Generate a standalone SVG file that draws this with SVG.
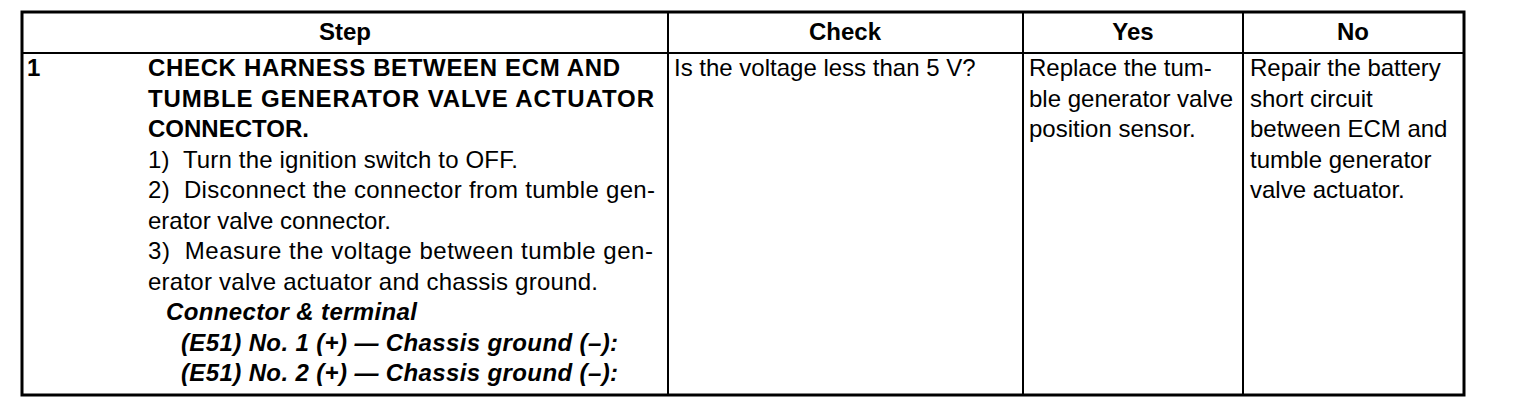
<svg xmlns="http://www.w3.org/2000/svg" width="1520" height="416" viewBox="0 0 1520 416">
<style>
text{font-family:"Liberation Sans",Arial,Helvetica,sans-serif;font-size:24px;fill:#000}
.b{font-weight:bold}
.bi{font-weight:bold;font-style:italic}
.c{text-anchor:middle}
.in{stroke:#000;stroke-width:2;fill:none}
.out{stroke:#000;stroke-width:3;fill:none}
</style>
<rect width="1520" height="416" fill="#fff"/>
<g id="grid">
<line class="in" x1="22" y1="53" x2="1464" y2="53"/>
<line class="in" x1="668" y1="12" x2="668" y2="395"/>
<line class="in" x1="1023" y1="12" x2="1023" y2="395"/>
<line class="in" x1="1243" y1="12" x2="1243" y2="395"/>
<rect class="out" x="22" y="12" width="1442" height="383"/>
</g>
<g id="header">
<text class="b c" x="345" y="40">Step</text>
<text class="b c" x="845" y="40">Check</text>
<text class="b c" x="1133" y="40">Yes</text>
<text class="b c" x="1353" y="40">No</text>
</g>
<g id="step">
<text class="b" x="27" y="76">1</text>
<text class="b" x="148" y="76" textLength="472">CHECK HARNESS BETWEEN ECM AND</text>
<text class="b" x="148" y="106.5" textLength="506">TUMBLE GENERATOR VALVE ACTUATOR</text>
<text class="b" x="148" y="137">CONNECTOR.</text>
<text x="148" y="167.5" xml:space="preserve" textLength="370">1)  Turn the ignition switch to OFF.</text>
<text x="148" y="198" xml:space="preserve" textLength="507">2)  Disconnect the connector from tumble gen-</text>
<text x="148" y="228.5">erator valve connector.</text>
<text x="148" y="259" xml:space="preserve" textLength="505">3)  Measure the voltage between tumble gen-</text>
<text x="148" y="289.5" textLength="450">erator valve actuator and chassis ground.</text>
<text class="bi" x="166" y="320" textLength="251">Connector &amp; terminal</text>
<text class="bi" x="181" y="350.5" textLength="437">(E51) No. 1 (+) — Chassis ground (–):</text>
<text class="bi" x="181" y="381" textLength="437">(E51) No. 2 (+) — Chassis ground (–):</text>
</g>
<g id="check">
<text x="674" y="76">Is the voltage less than 5 V?</text>
</g>
<g id="yes">
<text x="1029" y="76">Replace the tum-</text>
<text x="1029" y="106.5">ble generator valve</text>
<text x="1029" y="137">position sensor.</text>
</g>
<g id="no">
<text x="1250" y="76">Repair the battery</text>
<text x="1250" y="106.5">short circuit</text>
<text x="1250" y="137">between ECM and</text>
<text x="1250" y="167.5">tumble generator</text>
<text x="1250" y="198">valve actuator.</text>
</g>
<g id="connectors"/>
</svg>
